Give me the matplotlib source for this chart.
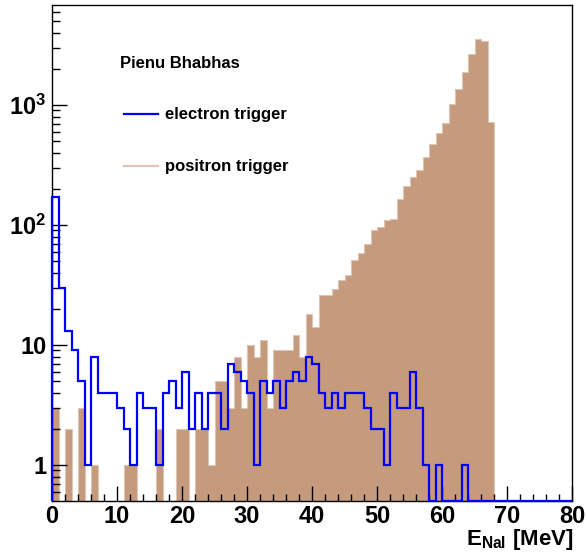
import numpy as np
import matplotlib
matplotlib.use("Agg")
import matplotlib.pyplot as plt
from matplotlib.ticker import FixedLocator, LogLocator, MultipleLocator, NullFormatter

# 1 MeV bins from 0 to 80
bin_edges = np.arange(0, 81, 1)

# counts per bin
electron_counts = [170, 30, 13, 9, 5, 1, 8, 4, 4, 4,
                   3, 2, 1, 4, 3, 3, 1, 4, 5, 3,
                   6, 2, 4, 2, 4, 4, 2, 7, 6, 5,
                   4, 1, 5, 4, 5, 3, 5, 6, 5, 8,
                   7, 4, 3, 4, 3, 4, 4, 4, 3, 2,
                   2, 1, 4, 3, 3, 6, 3, 1, 0, 1,
                   0, 0, 0, 1, 0, 0, 0, 0, 0, 0,
                   0, 0, 0, 0, 0, 0, 0, 0, 0, 0]

positron_counts = [3, 0, 2, 0, 3, 0, 1, 0, 0, 0,
                   0, 1, 1, 0, 0, 0, 2, 0, 0, 2,
                   2, 0, 2, 2, 1, 5, 5, 3, 8, 3,
                   10, 8, 11, 3, 9, 9, 9, 12, 8, 18,
                   14, 26, 26, 29, 35, 38, 51, 58, 70, 91,
                   97, 110, 112, 165, 211, 251, 287, 366, 473, 581,
                   704, 1013, 1360, 1895, 2660, 3525, 3390, 721, 0, 0,
                   0, 0, 0, 0, 0, 0, 0, 0, 0, 0]

y_ticks = [1, 10, 100, 1000]
y_tick_labels = ["1", "10", r"$10^{2}$", r"$10^{3}$"]
x_ticks = [0, 10, 20, 30, 40, 50, 60, 70, 80]

YMIN, YMAX = 0.504, 6800
TAN = "#c69a7d"
TAN_LINE = "#dcc6b6"
BLUE = "#0000ff"

plt.rcParams["font.family"] = ["Liberation Sans", "DejaVu Sans"]
plt.rcParams["font.weight"] = "bold"
plt.rcParams["mathtext.fontset"] = "custom"
plt.rcParams["mathtext.rm"] = "Liberation Sans:bold"
plt.rcParams["mathtext.it"] = "Liberation Sans:bold"
plt.rcParams["mathtext.bf"] = "Liberation Sans:bold"
plt.rcParams["mathtext.default"] = "rm"

W, H = 587, 552
fig = plt.figure(figsize=(W / 100, H / 100), dpi=100)
ax = fig.add_axes([52 / W, 1 - 500.7 / H, 520 / W, 495.7 / H])
ax.set_yscale("log")

pos = np.array(positron_counts, dtype=float)
ele = np.array(electron_counts, dtype=float)

# empty bins sit on the bottom of the frame, as in ROOT
ax.stairs(np.where(pos > 0, pos, YMIN), bin_edges, baseline=YMIN, fill=True,
          color=TAN, zorder=1)
ax.stairs(np.where(pos > 0, pos, YMIN), bin_edges, baseline=YMIN,
          color=TAN_LINE, linewidth=0.8, zorder=1.5)
ax.stairs(np.where(ele > 0, ele, YMIN), bin_edges, baseline=YMIN,
          color=BLUE, linewidth=1.6, zorder=3, clip_on=False)

ax.set_xlim(0, 80)
ax.set_ylim(YMIN, YMAX)

ax.xaxis.set_major_locator(FixedLocator(x_ticks))
ax.xaxis.set_minor_locator(MultipleLocator(2))
ax.yaxis.set_major_locator(FixedLocator(y_ticks))
ax.yaxis.set_minor_locator(LogLocator(base=10, subs=np.arange(2, 10)))
ax.yaxis.set_minor_formatter(NullFormatter())
ax.set_xticklabels([str(v) for v in x_ticks])
ax.set_yticklabels(y_tick_labels)

ax.tick_params(which="both", direction="in", top=False, right=False,
               width=1, labelsize=17)
ax.tick_params(which="major", length=10.8)
ax.tick_params(which="minor", length=5.4)
ax.tick_params(axis="x", pad=3)
ax.tick_params(axis="y", pad=4)
for s in ax.spines.values():
    s.set_linewidth(1)
    s.set_zorder(2)

# axis title, right aligned to the frame
fig.text(573 / W, 1 - 545 / H, r"E$_{\mathregular{NaI}}$ [MeV]", ha="right",
         va="baseline", fontsize=16, fontweight="bold")

# legend drawn by hand
def fx(px):
    return px / W

def fy(py):
    return 1 - py / H

fig.text(fx(120), fy(64), "Pienu Bhabhas", fontsize=12, fontweight="bold", va="center")
fig.add_artist(plt.Line2D([fx(124), fx(158)], [fy(114), fy(114)], color=BLUE, lw=1.6))
fig.text(fx(165), fy(114), "electron trigger", fontsize=12, fontweight="bold", va="center")
fig.add_artist(plt.Line2D([fx(124), fx(158)], [fy(166), fy(166)], color=TAN_LINE, lw=1.6))
fig.text(fx(165), fy(166), "positron trigger", fontsize=12, fontweight="bold", va="center")

fig.savefig("out.png", dpi=100)
